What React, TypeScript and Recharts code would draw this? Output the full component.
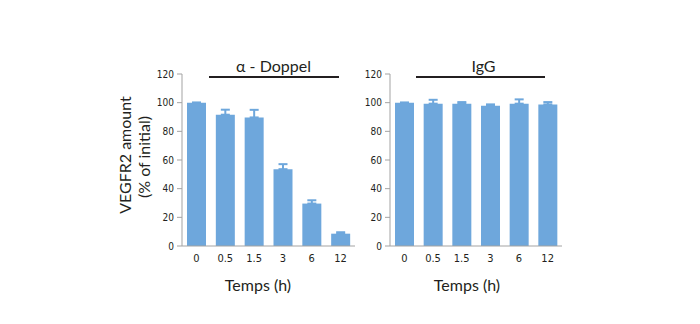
import { BarChart, Bar, XAxis, YAxis, ErrorBar } from "recharts";

const timeLabels = ["0", "0.5", "1.5", "3", "6", "12"];
const doppelMean = [100, 91.6, 89.7, 53.6, 29.6, 8.6];
const doppelErr = [0, 3.5, 5.3, 3.5, 2.3, 1];
const iggMean = [100, 99.3, 99.3, 97.8, 99.3, 98.8];
const iggErr = [0, 2.7, 1.1, 1, 3, 1.6];
const yTicks = [0, 20, 40, 60, 80, 100, 120];

const BAR = "#6ea7dc";
const AXIS = "#a3a3a3";
const INK = "#231f20";
const LABEL_FONT = "Lato, 'Open Sans', sans-serif";
const TICK_FONT = "'Liberation Sans Narrow', 'DejaVu Sans Condensed', sans-serif";

const build = (mean: number[], err: number[]) =>
  timeLabels.map((t, i) => ({ t, v: mean[i], e: [0, err[i]] }));

const doppelData = build(doppelMean, doppelErr);
const iggData = build(iggMean, iggErr);

function Panel({ data, width, margin }: { data: any[]; width: number; margin: any }) {
  return (
    <BarChart width={width} height={324} data={data} margin={margin}>
      <XAxis
        dataKey="t"
        stroke={AXIS}
        tickLine={false}
        tickSize={0}
        tickMargin={8}
        height={30}
        tick={{ fontSize: 11, fill: INK, fontFamily: TICK_FONT }}
      />
      <YAxis
        domain={[0, 120]}
        ticks={yTicks}
        stroke={AXIS}
        tickSize={5}
        tickMargin={3}
        width={30}
        tick={{ fontSize: 10, fill: INK, fontFamily: TICK_FONT }}
      />
      <Bar dataKey="v" fill={BAR} barSize={19} isAnimationActive={false}>
        <ErrorBar dataKey="e" width={4.5} stroke={BAR} strokeWidth={2} direction="y" />
      </Bar>
    </BarChart>
  );
}

const centered = (cx: number, cy: number, size: number, rotate = false): React.CSSProperties => ({
  position: "absolute",
  left: cx,
  top: cy,
  transform: `translate(-50%, -50%)${rotate ? " rotate(-90deg)" : ""}`,
  whiteSpace: "nowrap",
  fontFamily: LABEL_FONT,
  fontSize: size,
  color: INK,
  lineHeight: 1,
});

export default function App() {
  return (
    <div style={{ position: "absolute", left: 0, top: 0, width: 700, height: 324, background: "#fff" }}>
      <div style={{ position: "absolute", left: 0, top: 0 }}>
        <Panel data={doppelData} width={370} margin={{ top: 74, right: 15, bottom: 48, left: 152 }} />
      </div>
      <div style={{ position: "absolute", left: 340, top: 0 }}>
        <Panel data={iggData} width={360} margin={{ top: 74, right: 138, bottom: 48, left: 20 }} />
      </div>

      <div style={centered(273.5, 66, 16)}>α - Doppel</div>
      <div style={{ position: "absolute", left: 209, top: 76, width: 130, height: 1.5, background: INK }} />
      <div style={centered(483.5, 66, 16)}>IgG</div>
      <div style={{ position: "absolute", left: 416, top: 76, width: 129, height: 1.5, background: INK }} />

      <div style={centered(125, 155, 16, true)}>VEGFR2 amount</div>
      <div style={centered(143.5, 157, 16, true)}>(% of initial)</div>

      <div style={centered(258, 285, 16)}>Temps (h)</div>
      <div style={centered(467, 285, 16)}>Temps (h)</div>
    </div>
  );
}
